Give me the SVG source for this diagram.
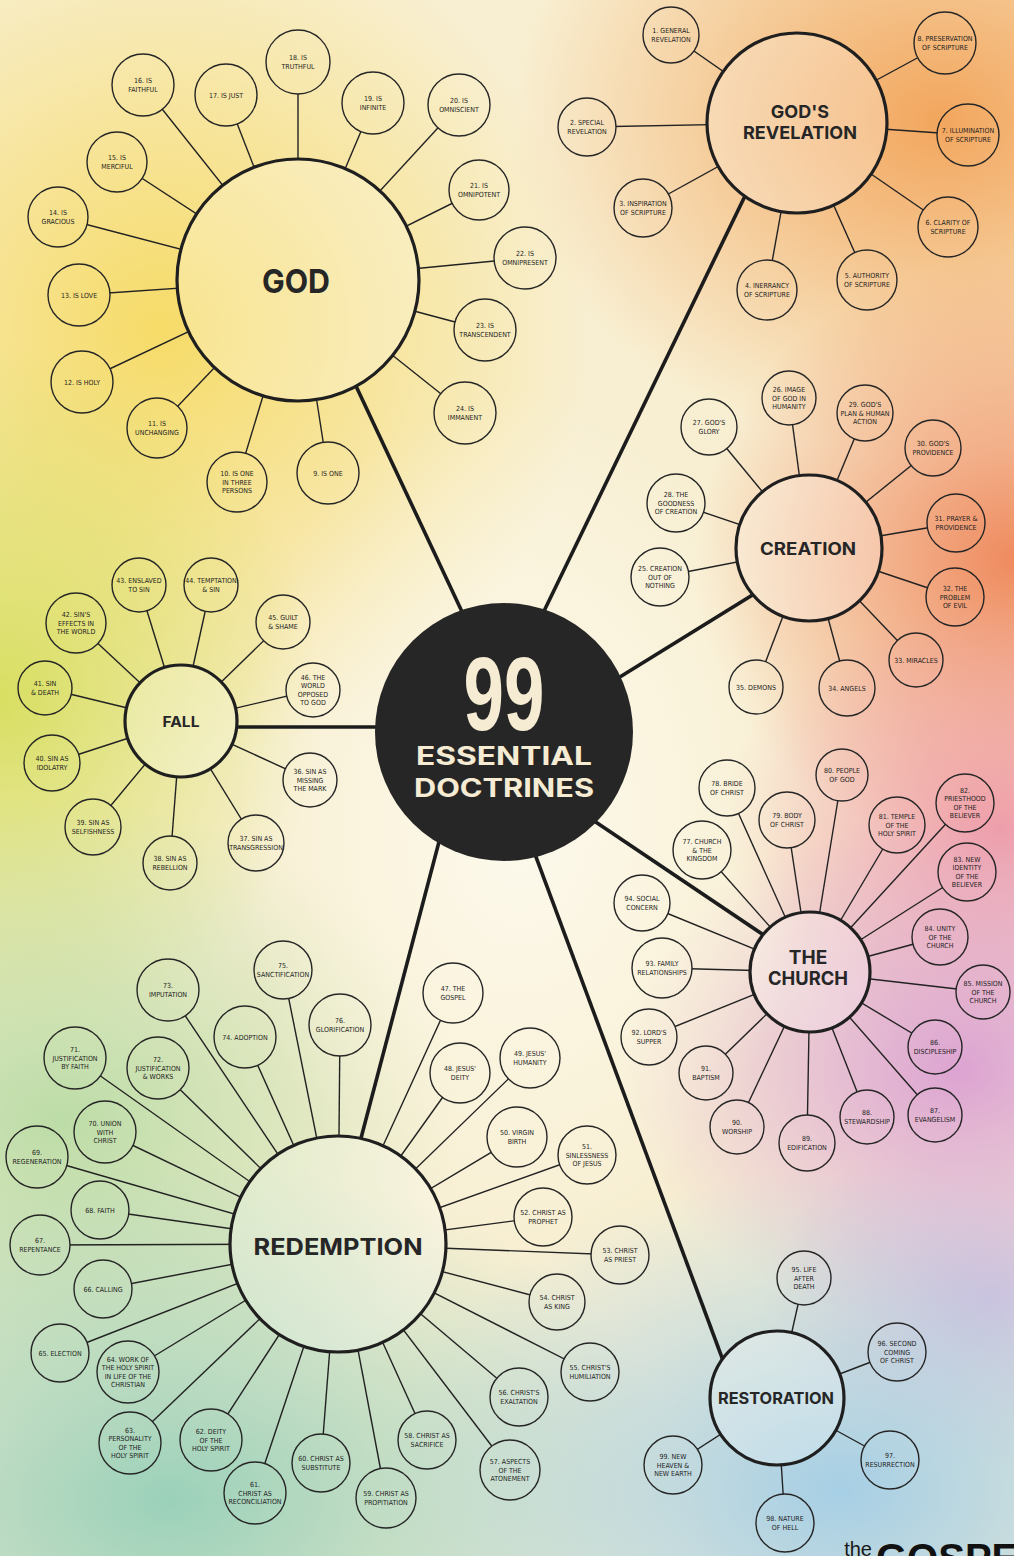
<svg xmlns="http://www.w3.org/2000/svg" width="1014" height="1556" viewBox="0 0 1014 1556">
<style>
.sat circle{fill:none;stroke:#262626;stroke-width:1.4}
.sat text{font-family:"Liberation Sans Narrow","DejaVu Sans Condensed","Liberation Sans",sans-serif;font-stretch:condensed;font-size:7px;fill:#1e1e1e;text-anchor:middle}
.hub circle{fill:#ffffff;fill-opacity:.25;stroke:#1f1f1f;stroke-width:3.2}
.hub text{font-family:"Inter","Open Sans","Liberation Sans",sans-serif;font-weight:700;fill:#262626;text-anchor:middle}
#links line{stroke:#222;stroke-width:1.4}
#links line.trunk{stroke:#1c1c1c;stroke-width:3.6}
</style>
<defs>
<radialGradient id="gY"><stop offset="0" stop-color="#f6da62" stop-opacity=".95"/><stop offset="1" stop-color="#f6da62" stop-opacity="0"/></radialGradient>
<radialGradient id="gO"><stop offset="0" stop-color="#f2a257" stop-opacity=".95"/><stop offset="1" stop-color="#f2a257" stop-opacity="0"/></radialGradient>
<radialGradient id="gC"><stop offset="0" stop-color="#ee7f52" stop-opacity=".9"/><stop offset="1" stop-color="#ee7f52" stop-opacity="0"/></radialGradient>
<radialGradient id="gP"><stop offset="0" stop-color="#ee96a6" stop-opacity=".9"/><stop offset="1" stop-color="#ee96a6" stop-opacity="0"/></radialGradient>
<radialGradient id="gM"><stop offset="0" stop-color="#d99bd2" stop-opacity=".9"/><stop offset="1" stop-color="#d99bd2" stop-opacity="0"/></radialGradient>
<radialGradient id="gL"><stop offset="0" stop-color="#d3b4de" stop-opacity=".8"/><stop offset="1" stop-color="#d3b4de" stop-opacity="0"/></radialGradient>
<radialGradient id="gG"><stop offset="0" stop-color="#d4dd55" stop-opacity=".9"/><stop offset="1" stop-color="#d4dd55" stop-opacity="0"/></radialGradient>
<radialGradient id="gG2"><stop offset="0" stop-color="#b5daa2" stop-opacity=".9"/><stop offset="1" stop-color="#b5daa2" stop-opacity="0"/></radialGradient>
<radialGradient id="gT"><stop offset="0" stop-color="#96cfb8" stop-opacity=".95"/><stop offset="1" stop-color="#96cfb8" stop-opacity="0"/></radialGradient>
<radialGradient id="gB"><stop offset="0" stop-color="#a2cde6" stop-opacity=".95"/><stop offset="1" stop-color="#a2cde6" stop-opacity="0"/></radialGradient>
<radialGradient id="gW"><stop offset="0" stop-color="#fdfaee" stop-opacity=".95"/><stop offset="1" stop-color="#fdfaee" stop-opacity="0"/></radialGradient>
<mask id="holes" maskUnits="userSpaceOnUse" x="0" y="0" width="1014" height="1556">
<rect width="1014" height="1556" fill="#fff"/>
<g fill="#000">
<circle cx="298" cy="280" r="121"/><circle cx="797" cy="123" r="90"/><circle cx="809" cy="548" r="73"/><circle cx="181" cy="721" r="56"/><circle cx="810" cy="972" r="60"/><circle cx="338" cy="1244" r="108"/><circle cx="777" cy="1398" r="67"/>
<circle cx="328" cy="473" r="31"/><circle cx="237" cy="482" r="30"/><circle cx="157" cy="428" r="30"/><circle cx="82" cy="382" r="31"/><circle cx="79" cy="295" r="31"/><circle cx="58" cy="217" r="30"/><circle cx="117" cy="162" r="30"/><circle cx="143" cy="85" r="31"/><circle cx="226" cy="95" r="31"/><circle cx="298" cy="62" r="32"/><circle cx="373" cy="103" r="31"/><circle cx="459" cy="105" r="31"/><circle cx="479" cy="190" r="30"/><circle cx="525" cy="258" r="31"/><circle cx="485" cy="330" r="31"/><circle cx="465" cy="413" r="31"/>
<circle cx="671" cy="35" r="28"/><circle cx="587" cy="127" r="29"/><circle cx="643" cy="208" r="29"/><circle cx="767" cy="290" r="30"/><circle cx="867" cy="280" r="30"/><circle cx="948" cy="227" r="30"/><circle cx="968" cy="135" r="31"/><circle cx="945" cy="43" r="31"/>
<circle cx="660" cy="577" r="29"/><circle cx="789" cy="398" r="27"/><circle cx="709" cy="427" r="28"/><circle cx="676" cy="503" r="29"/><circle cx="865" cy="413" r="28"/><circle cx="933" cy="448" r="28"/><circle cx="956" cy="523" r="29"/><circle cx="955" cy="597" r="29"/><circle cx="916" cy="660" r="27"/><circle cx="847" cy="688" r="28"/><circle cx="756" cy="687" r="27"/>
<circle cx="310" cy="780" r="27"/><circle cx="256" cy="843" r="28"/><circle cx="170" cy="863" r="27"/><circle cx="93" cy="827" r="28"/><circle cx="52" cy="763" r="28"/><circle cx="45" cy="688" r="27"/><circle cx="76" cy="623" r="30"/><circle cx="139" cy="585" r="27"/><circle cx="211" cy="585" r="27"/><circle cx="283" cy="622" r="27"/><circle cx="313" cy="690" r="27"/>
<circle cx="453" cy="993" r="30"/><circle cx="460" cy="1073" r="30"/><circle cx="530" cy="1058" r="30"/><circle cx="517" cy="1137" r="30"/><circle cx="587" cy="1155" r="29"/><circle cx="543" cy="1217" r="29"/><circle cx="620" cy="1255" r="29"/><circle cx="557" cy="1302" r="28"/><circle cx="590" cy="1372" r="29"/><circle cx="519" cy="1397" r="29"/><circle cx="510" cy="1470" r="30"/><circle cx="427" cy="1440" r="29"/><circle cx="386" cy="1498" r="30"/><circle cx="321" cy="1463" r="29"/><circle cx="255" cy="1493" r="31"/><circle cx="211" cy="1440" r="31"/><circle cx="130" cy="1443" r="31"/><circle cx="128" cy="1372" r="31"/><circle cx="60" cy="1353" r="29"/><circle cx="103" cy="1289" r="29"/><circle cx="40" cy="1245" r="30"/><circle cx="100" cy="1210" r="29"/><circle cx="37" cy="1157" r="31"/><circle cx="105" cy="1132" r="31"/><circle cx="75" cy="1058" r="31"/><circle cx="158" cy="1068" r="31"/><circle cx="168" cy="990" r="31"/><circle cx="245" cy="1037" r="31"/><circle cx="283" cy="970" r="29"/><circle cx="340" cy="1025" r="31"/>
<circle cx="702" cy="850" r="29"/><circle cx="727" cy="788" r="28"/><circle cx="787" cy="820" r="28"/><circle cx="842" cy="775" r="26"/><circle cx="897" cy="825" r="28"/><circle cx="965" cy="803" r="29"/><circle cx="967" cy="872" r="29"/><circle cx="940" cy="937" r="28"/><circle cx="983" cy="992" r="27"/><circle cx="935" cy="1047" r="27"/><circle cx="935" cy="1115" r="27"/><circle cx="867" cy="1117" r="27"/><circle cx="807" cy="1143" r="28"/><circle cx="737" cy="1127" r="27"/><circle cx="706" cy="1073" r="27"/><circle cx="649" cy="1037" r="28"/><circle cx="662" cy="968" r="30"/><circle cx="642" cy="903" r="28"/>
<circle cx="804" cy="1278" r="27"/><circle cx="897" cy="1352" r="29"/><circle cx="890" cy="1460" r="29"/><circle cx="785" cy="1523" r="29"/><circle cx="673" cy="1465" r="29"/>
</g>
</mask>
</defs>
<g id="background">
<rect width="1014" height="1556" fill="#f8efd2"/>
<ellipse cx="160" cy="330" rx="430" ry="430" fill="url(#gY)"/>
<ellipse cx="940" cy="120" rx="430" ry="340" fill="url(#gO)"/>
<ellipse cx="1014" cy="560" rx="320" ry="300" fill="url(#gC)"/>
<ellipse cx="1000" cy="830" rx="280" ry="230" fill="url(#gP)"/>
<ellipse cx="960" cy="1070" rx="340" ry="260" fill="url(#gM)"/>
<ellipse cx="990" cy="1300" rx="230" ry="170" fill="url(#gL)"/>
<ellipse cx="0" cy="700" rx="320" ry="360" fill="url(#gG)"/>
<ellipse cx="60" cy="1120" rx="400" ry="320" fill="url(#gG2)"/>
<ellipse cx="170" cy="1500" rx="520" ry="340" fill="url(#gT)"/>
<ellipse cx="840" cy="1490" rx="470" ry="320" fill="url(#gB)"/>
<ellipse cx="520" cy="820" rx="290" ry="430" fill="url(#gW)"/>
</g>
<g id="links" mask="url(#holes)">
<line class="trunk" x1="340" y1="352" x2="480" y2="650"/>
<line class="trunk" x1="760" y1="165" x2="530" y2="640"/>
<line class="trunk" x1="780" y1="578" x2="560" y2="714"/>
<line class="trunk" x1="200" y1="727" x2="420" y2="727"/>
<line class="trunk" x1="560" y1="798" x2="780" y2="946"/>
<line class="trunk" x1="450" y1="800" x2="350" y2="1180"/>
<line class="trunk" x1="500" y1="760" x2="734" y2="1390"/>
<line x1="328" y1="473" x2="298" y2="280"/><line x1="237" y1="482" x2="298" y2="280"/><line x1="157" y1="428" x2="298" y2="280"/><line x1="82" y1="382" x2="298" y2="280"/><line x1="79" y1="295" x2="298" y2="280"/><line x1="58" y1="217" x2="298" y2="280"/><line x1="117" y1="162" x2="298" y2="280"/><line x1="143" y1="85" x2="298" y2="280"/><line x1="226" y1="95" x2="298" y2="280"/><line x1="298" y1="62" x2="298" y2="280"/><line x1="373" y1="103" x2="298" y2="280"/><line x1="459" y1="105" x2="298" y2="280"/><line x1="479" y1="190" x2="298" y2="280"/><line x1="525" y1="258" x2="298" y2="280"/><line x1="485" y1="330" x2="298" y2="280"/><line x1="465" y1="413" x2="298" y2="280"/>
<line x1="671" y1="35" x2="797" y2="123"/><line x1="587" y1="127" x2="797" y2="123"/><line x1="643" y1="208" x2="797" y2="123"/><line x1="767" y1="290" x2="797" y2="123"/><line x1="867" y1="280" x2="797" y2="123"/><line x1="948" y1="227" x2="797" y2="123"/><line x1="968" y1="135" x2="797" y2="123"/><line x1="945" y1="43" x2="797" y2="123"/>
<line x1="660" y1="577" x2="809" y2="548"/><line x1="789" y1="398" x2="809" y2="548"/><line x1="709" y1="427" x2="809" y2="548"/><line x1="676" y1="503" x2="809" y2="548"/><line x1="865" y1="413" x2="809" y2="548"/><line x1="933" y1="448" x2="809" y2="548"/><line x1="956" y1="523" x2="809" y2="548"/><line x1="955" y1="597" x2="809" y2="548"/><line x1="916" y1="660" x2="809" y2="548"/><line x1="847" y1="688" x2="809" y2="548"/><line x1="756" y1="687" x2="809" y2="548"/>
<line x1="310" y1="780" x2="181" y2="721"/><line x1="256" y1="843" x2="181" y2="721"/><line x1="170" y1="863" x2="181" y2="721"/><line x1="93" y1="827" x2="181" y2="721"/><line x1="52" y1="763" x2="181" y2="721"/><line x1="45" y1="688" x2="181" y2="721"/><line x1="76" y1="623" x2="181" y2="721"/><line x1="139" y1="585" x2="181" y2="721"/><line x1="211" y1="585" x2="181" y2="721"/><line x1="283" y1="622" x2="181" y2="721"/><line x1="313" y1="690" x2="181" y2="721"/>
<line x1="453" y1="993" x2="338" y2="1244"/><line x1="460" y1="1073" x2="338" y2="1244"/><line x1="530" y1="1058" x2="338" y2="1244"/><line x1="517" y1="1137" x2="338" y2="1244"/><line x1="587" y1="1155" x2="338" y2="1244"/><line x1="543" y1="1217" x2="338" y2="1244"/><line x1="620" y1="1255" x2="338" y2="1244"/><line x1="557" y1="1302" x2="338" y2="1244"/><line x1="590" y1="1372" x2="338" y2="1244"/><line x1="519" y1="1397" x2="338" y2="1244"/><line x1="510" y1="1470" x2="338" y2="1244"/><line x1="427" y1="1440" x2="338" y2="1244"/><line x1="386" y1="1498" x2="338" y2="1244"/><line x1="321" y1="1463" x2="338" y2="1244"/><line x1="255" y1="1493" x2="338" y2="1244"/><line x1="211" y1="1440" x2="338" y2="1244"/><line x1="130" y1="1443" x2="338" y2="1244"/><line x1="128" y1="1372" x2="338" y2="1244"/><line x1="60" y1="1353" x2="338" y2="1244"/><line x1="103" y1="1289" x2="338" y2="1244"/><line x1="40" y1="1245" x2="338" y2="1244"/><line x1="100" y1="1210" x2="338" y2="1244"/><line x1="37" y1="1157" x2="338" y2="1244"/><line x1="105" y1="1132" x2="338" y2="1244"/><line x1="75" y1="1058" x2="338" y2="1244"/><line x1="158" y1="1068" x2="338" y2="1244"/><line x1="168" y1="990" x2="338" y2="1244"/><line x1="245" y1="1037" x2="338" y2="1244"/><line x1="283" y1="970" x2="338" y2="1244"/><line x1="340" y1="1025" x2="338" y2="1244"/>
<line x1="702" y1="850" x2="810" y2="972"/><line x1="727" y1="788" x2="810" y2="972"/><line x1="787" y1="820" x2="810" y2="972"/><line x1="842" y1="775" x2="810" y2="972"/><line x1="897" y1="825" x2="810" y2="972"/><line x1="965" y1="803" x2="810" y2="972"/><line x1="967" y1="872" x2="810" y2="972"/><line x1="940" y1="937" x2="810" y2="972"/><line x1="983" y1="992" x2="810" y2="972"/><line x1="935" y1="1047" x2="810" y2="972"/><line x1="935" y1="1115" x2="810" y2="972"/><line x1="867" y1="1117" x2="810" y2="972"/><line x1="807" y1="1143" x2="810" y2="972"/><line x1="737" y1="1127" x2="810" y2="972"/><line x1="706" y1="1073" x2="810" y2="972"/><line x1="649" y1="1037" x2="810" y2="972"/><line x1="662" y1="968" x2="810" y2="972"/><line x1="642" y1="903" x2="810" y2="972"/>
<line x1="804" y1="1278" x2="777" y2="1398"/><line x1="897" y1="1352" x2="777" y2="1398"/><line x1="890" y1="1460" x2="777" y2="1398"/><line x1="785" y1="1523" x2="777" y2="1398"/><line x1="673" y1="1465" x2="777" y2="1398"/>
</g>
<g id="center">
<circle cx="504" cy="732" r="129" fill="#272626"/>
<text transform="translate(504,730) scale(0.7,1)" text-anchor="middle" font-family="'Liberation Sans','DejaVu Sans',sans-serif" font-weight="700" font-size="104" fill="#f6ecd3">99</text>
<text x="504" y="765" text-anchor="middle" font-family="Inter,'Open Sans','Liberation Sans',sans-serif" font-weight="700" font-size="25" fill="#f6ecd3" textLength="176" lengthAdjust="spacingAndGlyphs">ESSENTIAL</text>
<text x="504" y="797" text-anchor="middle" font-family="Inter,'Open Sans','Liberation Sans',sans-serif" font-weight="700" font-size="25" fill="#f6ecd3" textLength="180" lengthAdjust="spacingAndGlyphs">DOCTRINES</text>
</g>
<g id="hub-god" class="hub"><circle cx="298" cy="280" r="121"/><text x="296" y="293" font-size="33" textLength="68" lengthAdjust="spacingAndGlyphs">GOD</text></g>
<g id="hub-revelation" class="hub"><circle cx="797" cy="123" r="90"/><text x="800" y="118" font-size="18">GOD'S</text><text x="800" y="139" font-size="18" textLength="114" lengthAdjust="spacingAndGlyphs">REVELATION</text></g>
<g id="hub-creation" class="hub"><circle cx="809" cy="548" r="73"/><text x="808" y="555" font-size="17" textLength="96" lengthAdjust="spacingAndGlyphs">CREATION</text></g>
<g id="hub-fall" class="hub"><circle cx="181" cy="721" r="56"/><text x="181" y="727" font-size="15" textLength="37" lengthAdjust="spacingAndGlyphs">FALL</text></g>
<g id="hub-church" class="hub"><circle cx="810" cy="972" r="60"/><text x="808" y="964" font-size="19">THE</text><text x="808" y="985" font-size="19" textLength="80" lengthAdjust="spacingAndGlyphs">CHURCH</text></g>
<g id="hub-redemption" class="hub"><circle cx="338" cy="1244" r="108"/><text x="338" y="1255" font-size="23" textLength="169" lengthAdjust="spacingAndGlyphs">REDEMPTION</text></g>
<g id="hub-restoration" class="hub"><circle cx="777" cy="1398" r="67"/><text x="776" y="1404" font-size="16" textLength="116" lengthAdjust="spacingAndGlyphs">RESTORATION</text></g>

<g id="n9" class="sat"><circle cx="328" cy="473" r="31"/><text x="328" y="475.5">9. IS ONE</text></g>
<g id="n10" class="sat"><circle cx="237" cy="482" r="30"/><text x="237" y="476"><tspan x="237">10. IS ONE</tspan><tspan x="237" dy="8.5">IN THREE</tspan><tspan x="237" dy="8.5">PERSONS</tspan></text></g>
<g id="n11" class="sat"><circle cx="157" cy="428" r="30"/><text x="157" y="426.25"><tspan x="157">11. IS</tspan><tspan x="157" dy="8.5">UNCHANGING</tspan></text></g>
<g id="n12" class="sat"><circle cx="82" cy="382" r="31"/><text x="82" y="384.5">12. IS HOLY</text></g>
<g id="n13" class="sat"><circle cx="79" cy="295" r="31"/><text x="79" y="297.5">13. IS LOVE</text></g>
<g id="n14" class="sat"><circle cx="58" cy="217" r="30"/><text x="58" y="215.25"><tspan x="58">14. IS</tspan><tspan x="58" dy="8.5">GRACIOUS</tspan></text></g>
<g id="n15" class="sat"><circle cx="117" cy="162" r="30"/><text x="117" y="160.25"><tspan x="117">15. IS</tspan><tspan x="117" dy="8.5">MERCIFUL</tspan></text></g>
<g id="n16" class="sat"><circle cx="143" cy="85" r="31"/><text x="143" y="83.25"><tspan x="143">16. IS</tspan><tspan x="143" dy="8.5">FAITHFUL</tspan></text></g>
<g id="n17" class="sat"><circle cx="226" cy="95" r="31"/><text x="226" y="97.5">17. IS JUST</text></g>
<g id="n18" class="sat"><circle cx="298" cy="62" r="32"/><text x="298" y="60.25"><tspan x="298">18. IS</tspan><tspan x="298" dy="8.5">TRUTHFUL</tspan></text></g>
<g id="n19" class="sat"><circle cx="373" cy="103" r="31"/><text x="373" y="101.25"><tspan x="373">19. IS</tspan><tspan x="373" dy="8.5">INFINITE</tspan></text></g>
<g id="n20" class="sat"><circle cx="459" cy="105" r="31"/><text x="459" y="103.25"><tspan x="459">20. IS</tspan><tspan x="459" dy="8.5">OMNISCIENT</tspan></text></g>
<g id="n21" class="sat"><circle cx="479" cy="190" r="30"/><text x="479" y="188.25"><tspan x="479">21. IS</tspan><tspan x="479" dy="8.5">OMNIPOTENT</tspan></text></g>
<g id="n22" class="sat"><circle cx="525" cy="258" r="31"/><text x="525" y="256.25"><tspan x="525">22. IS</tspan><tspan x="525" dy="8.5">OMNIPRESENT</tspan></text></g>
<g id="n23" class="sat"><circle cx="485" cy="330" r="31"/><text x="485" y="328.25"><tspan x="485">23. IS</tspan><tspan x="485" dy="8.5">TRANSCENDENT</tspan></text></g>
<g id="n24" class="sat"><circle cx="465" cy="413" r="31"/><text x="465" y="411.25"><tspan x="465">24. IS</tspan><tspan x="465" dy="8.5">IMMANENT</tspan></text></g>

<g id="n1" class="sat"><circle cx="671" cy="35" r="28"/><text x="671" y="33.25"><tspan x="671">1. GENERAL</tspan><tspan x="671" dy="8.5">REVELATION</tspan></text></g>
<g id="n2" class="sat"><circle cx="587" cy="127" r="29"/><text x="587" y="125.25"><tspan x="587">2. SPECIAL</tspan><tspan x="587" dy="8.5">REVELATION</tspan></text></g>
<g id="n3" class="sat"><circle cx="643" cy="208" r="29"/><text x="643" y="206.25"><tspan x="643">3. INSPIRATION</tspan><tspan x="643" dy="8.5">OF SCRIPTURE</tspan></text></g>
<g id="n4" class="sat"><circle cx="767" cy="290" r="30"/><text x="767" y="288.25"><tspan x="767">4. INERRANCY</tspan><tspan x="767" dy="8.5">OF SCRIPTURE</tspan></text></g>
<g id="n5" class="sat"><circle cx="867" cy="280" r="30"/><text x="867" y="278.25"><tspan x="867">5. AUTHORITY</tspan><tspan x="867" dy="8.5">OF SCRIPTURE</tspan></text></g>
<g id="n6" class="sat"><circle cx="948" cy="227" r="30"/><text x="948" y="225.25"><tspan x="948">6. CLARITY OF</tspan><tspan x="948" dy="8.5">SCRIPTURE</tspan></text></g>
<g id="n7" class="sat"><circle cx="968" cy="135" r="31"/><text x="968" y="133.25"><tspan x="968">7. ILLUMINATION</tspan><tspan x="968" dy="8.5">OF SCRIPTURE</tspan></text></g>
<g id="n8" class="sat"><circle cx="945" cy="43" r="31"/><text x="945" y="41.25"><tspan x="945">8. PRESERVATION</tspan><tspan x="945" dy="8.5">OF SCRIPTURE</tspan></text></g>

<g id="n25" class="sat"><circle cx="660" cy="577" r="29"/><text x="660" y="571"><tspan x="660">25. CREATION</tspan><tspan x="660" dy="8.5">OUT OF</tspan><tspan x="660" dy="8.5">NOTHING</tspan></text></g>
<g id="n26" class="sat"><circle cx="789" cy="398" r="27"/><text x="789" y="392"><tspan x="789">26. IMAGE</tspan><tspan x="789" dy="8.5">OF GOD IN</tspan><tspan x="789" dy="8.5">HUMANITY</tspan></text></g>
<g id="n27" class="sat"><circle cx="709" cy="427" r="28"/><text x="709" y="425.25"><tspan x="709">27. GOD'S</tspan><tspan x="709" dy="8.5">GLORY</tspan></text></g>
<g id="n28" class="sat"><circle cx="676" cy="503" r="29"/><text x="676" y="497"><tspan x="676">28. THE</tspan><tspan x="676" dy="8.5">GOODNESS</tspan><tspan x="676" dy="8.5">OF CREATION</tspan></text></g>
<g id="n29" class="sat"><circle cx="865" cy="413" r="28"/><text x="865" y="407"><tspan x="865">29. GOD'S</tspan><tspan x="865" dy="8.5">PLAN &amp; HUMAN</tspan><tspan x="865" dy="8.5">ACTION</tspan></text></g>
<g id="n30" class="sat"><circle cx="933" cy="448" r="28"/><text x="933" y="446.25"><tspan x="933">30. GOD'S</tspan><tspan x="933" dy="8.5">PROVIDENCE</tspan></text></g>
<g id="n31" class="sat"><circle cx="956" cy="523" r="29"/><text x="956" y="521.25"><tspan x="956">31. PRAYER &amp;</tspan><tspan x="956" dy="8.5">PROVIDENCE</tspan></text></g>
<g id="n32" class="sat"><circle cx="955" cy="597" r="29"/><text x="955" y="591"><tspan x="955">32. THE</tspan><tspan x="955" dy="8.5">PROBLEM</tspan><tspan x="955" dy="8.5">OF EVIL</tspan></text></g>
<g id="n33" class="sat"><circle cx="916" cy="660" r="27"/><text x="916" y="662.5">33. MIRACLES</text></g>
<g id="n34" class="sat"><circle cx="847" cy="688" r="28"/><text x="847" y="690.5">34. ANGELS</text></g>
<g id="n35" class="sat"><circle cx="756" cy="687" r="27"/><text x="756" y="689.5">35. DEMONS</text></g>

<g id="n36" class="sat"><circle cx="310" cy="780" r="27"/><text x="310" y="774"><tspan x="310">36. SIN AS</tspan><tspan x="310" dy="8.5">MISSING</tspan><tspan x="310" dy="8.5">THE MARK</tspan></text></g>
<g id="n37" class="sat"><circle cx="256" cy="843" r="28"/><text x="256" y="841.25"><tspan x="256">37. SIN AS</tspan><tspan x="256" dy="8.5">TRANSGRESSION</tspan></text></g>
<g id="n38" class="sat"><circle cx="170" cy="863" r="27"/><text x="170" y="861.25"><tspan x="170">38. SIN AS</tspan><tspan x="170" dy="8.5">REBELLION</tspan></text></g>
<g id="n39" class="sat"><circle cx="93" cy="827" r="28"/><text x="93" y="825.25"><tspan x="93">39. SIN AS</tspan><tspan x="93" dy="8.5">SELFISHNESS</tspan></text></g>
<g id="n40" class="sat"><circle cx="52" cy="763" r="28"/><text x="52" y="761.25"><tspan x="52">40. SIN AS</tspan><tspan x="52" dy="8.5">IDOLATRY</tspan></text></g>
<g id="n41" class="sat"><circle cx="45" cy="688" r="27"/><text x="45" y="686.25"><tspan x="45">41. SIN</tspan><tspan x="45" dy="8.5">&amp; DEATH</tspan></text></g>
<g id="n42" class="sat"><circle cx="76" cy="623" r="30"/><text x="76" y="617"><tspan x="76">42. SIN'S</tspan><tspan x="76" dy="8.5">EFFECTS IN</tspan><tspan x="76" dy="8.5">THE WORLD</tspan></text></g>
<g id="n43" class="sat"><circle cx="139" cy="585" r="27"/><text x="139" y="583.25"><tspan x="139">43. ENSLAVED</tspan><tspan x="139" dy="8.5">TO SIN</tspan></text></g>
<g id="n44" class="sat"><circle cx="211" cy="585" r="27"/><text x="211" y="583.25"><tspan x="211">44. TEMPTATION</tspan><tspan x="211" dy="8.5">&amp; SIN</tspan></text></g>
<g id="n45" class="sat"><circle cx="283" cy="622" r="27"/><text x="283" y="620.25"><tspan x="283">45. GUILT</tspan><tspan x="283" dy="8.5">&amp; SHAME</tspan></text></g>
<g id="n46" class="sat"><circle cx="313" cy="690" r="27"/><text x="313" y="679.75"><tspan x="313">46. THE</tspan><tspan x="313" dy="8.5">WORLD</tspan><tspan x="313" dy="8.5">OPPOSED</tspan><tspan x="313" dy="8.5">TO GOD</tspan></text></g>

<g id="n47" class="sat"><circle cx="453" cy="993" r="30"/><text x="453" y="991.25"><tspan x="453">47. THE</tspan><tspan x="453" dy="8.5">GOSPEL</tspan></text></g>
<g id="n48" class="sat"><circle cx="460" cy="1073" r="30"/><text x="460" y="1071.25"><tspan x="460">48. JESUS'</tspan><tspan x="460" dy="8.5">DEITY</tspan></text></g>
<g id="n49" class="sat"><circle cx="530" cy="1058" r="30"/><text x="530" y="1056.25"><tspan x="530">49. JESUS'</tspan><tspan x="530" dy="8.5">HUMANITY</tspan></text></g>
<g id="n50" class="sat"><circle cx="517" cy="1137" r="30"/><text x="517" y="1135.25"><tspan x="517">50. VIRGIN</tspan><tspan x="517" dy="8.5">BIRTH</tspan></text></g>
<g id="n51" class="sat"><circle cx="587" cy="1155" r="29"/><text x="587" y="1149"><tspan x="587">51.</tspan><tspan x="587" dy="8.5">SINLESSNESS</tspan><tspan x="587" dy="8.5">OF JESUS</tspan></text></g>
<g id="n52" class="sat"><circle cx="543" cy="1217" r="29"/><text x="543" y="1215.25"><tspan x="543">52. CHRIST AS</tspan><tspan x="543" dy="8.5">PROPHET</tspan></text></g>
<g id="n53" class="sat"><circle cx="620" cy="1255" r="29"/><text x="620" y="1253.25"><tspan x="620">53. CHRIST</tspan><tspan x="620" dy="8.5">AS PRIEST</tspan></text></g>
<g id="n54" class="sat"><circle cx="557" cy="1302" r="28"/><text x="557" y="1300.25"><tspan x="557">54. CHRIST</tspan><tspan x="557" dy="8.5">AS KING</tspan></text></g>
<g id="n55" class="sat"><circle cx="590" cy="1372" r="29"/><text x="590" y="1370.25"><tspan x="590">55. CHRIST'S</tspan><tspan x="590" dy="8.5">HUMILIATION</tspan></text></g>
<g id="n56" class="sat"><circle cx="519" cy="1397" r="29"/><text x="519" y="1395.25"><tspan x="519">56. CHRIST'S</tspan><tspan x="519" dy="8.5">EXALTATION</tspan></text></g>
<g id="n57" class="sat"><circle cx="510" cy="1470" r="30"/><text x="510" y="1464"><tspan x="510">57. ASPECTS</tspan><tspan x="510" dy="8.5">OF THE</tspan><tspan x="510" dy="8.5">ATONEMENT</tspan></text></g>
<g id="n58" class="sat"><circle cx="427" cy="1440" r="29"/><text x="427" y="1438.25"><tspan x="427">58. CHRIST AS</tspan><tspan x="427" dy="8.5">SACRIFICE</tspan></text></g>
<g id="n59" class="sat"><circle cx="386" cy="1498" r="30"/><text x="386" y="1496.25"><tspan x="386">59. CHRIST AS</tspan><tspan x="386" dy="8.5">PROPITIATION</tspan></text></g>
<g id="n60" class="sat"><circle cx="321" cy="1463" r="29"/><text x="321" y="1461.25"><tspan x="321">60. CHRIST AS</tspan><tspan x="321" dy="8.5">SUBSTITUTE</tspan></text></g>
<g id="n61" class="sat"><circle cx="255" cy="1493" r="31"/><text x="255" y="1487"><tspan x="255">61.</tspan><tspan x="255" dy="8.5">CHRIST AS</tspan><tspan x="255" dy="8.5">RECONCILIATION</tspan></text></g>
<g id="n62" class="sat"><circle cx="211" cy="1440" r="31"/><text x="211" y="1434"><tspan x="211">62. DEITY</tspan><tspan x="211" dy="8.5">OF THE</tspan><tspan x="211" dy="8.5">HOLY SPIRIT</tspan></text></g>
<g id="n63" class="sat"><circle cx="130" cy="1443" r="31"/><text x="130" y="1432.75"><tspan x="130">63.</tspan><tspan x="130" dy="8.5">PERSONALITY</tspan><tspan x="130" dy="8.5">OF THE</tspan><tspan x="130" dy="8.5">HOLY SPIRIT</tspan></text></g>
<g id="n64" class="sat"><circle cx="128" cy="1372" r="31"/><text x="128" y="1361.75"><tspan x="128">64. WORK OF</tspan><tspan x="128" dy="8.5">THE HOLY SPIRIT</tspan><tspan x="128" dy="8.5">IN LIFE OF THE</tspan><tspan x="128" dy="8.5">CHRISTIAN</tspan></text></g>
<g id="n65" class="sat"><circle cx="60" cy="1353" r="29"/><text x="60" y="1355.5">65. ELECTION</text></g>
<g id="n66" class="sat"><circle cx="103" cy="1289" r="29"/><text x="103" y="1291.5">66. CALLING</text></g>
<g id="n67" class="sat"><circle cx="40" cy="1245" r="30"/><text x="40" y="1243.25"><tspan x="40">67.</tspan><tspan x="40" dy="8.5">REPENTANCE</tspan></text></g>
<g id="n68" class="sat"><circle cx="100" cy="1210" r="29"/><text x="100" y="1212.5">68. FAITH</text></g>
<g id="n69" class="sat"><circle cx="37" cy="1157" r="31"/><text x="37" y="1155.25"><tspan x="37">69.</tspan><tspan x="37" dy="8.5">REGENERATION</tspan></text></g>
<g id="n70" class="sat"><circle cx="105" cy="1132" r="31"/><text x="105" y="1126"><tspan x="105">70. UNION</tspan><tspan x="105" dy="8.5">WITH</tspan><tspan x="105" dy="8.5">CHRIST</tspan></text></g>
<g id="n71" class="sat"><circle cx="75" cy="1058" r="31"/><text x="75" y="1052"><tspan x="75">71.</tspan><tspan x="75" dy="8.5">JUSTIFICATION</tspan><tspan x="75" dy="8.5">BY FAITH</tspan></text></g>
<g id="n72" class="sat"><circle cx="158" cy="1068" r="31"/><text x="158" y="1062"><tspan x="158">72.</tspan><tspan x="158" dy="8.5">JUSTIFICATION</tspan><tspan x="158" dy="8.5">&amp; WORKS</tspan></text></g>
<g id="n73" class="sat"><circle cx="168" cy="990" r="31"/><text x="168" y="988.25"><tspan x="168">73.</tspan><tspan x="168" dy="8.5">IMPUTATION</tspan></text></g>
<g id="n74" class="sat"><circle cx="245" cy="1037" r="31"/><text x="245" y="1039.5">74. ADOPTION</text></g>
<g id="n75" class="sat"><circle cx="283" cy="970" r="29"/><text x="283" y="968.25"><tspan x="283">75.</tspan><tspan x="283" dy="8.5">SANCTIFICATION</tspan></text></g>
<g id="n76" class="sat"><circle cx="340" cy="1025" r="31"/><text x="340" y="1023.25"><tspan x="340">76.</tspan><tspan x="340" dy="8.5">GLORIFICATION</tspan></text></g>

<g id="n77" class="sat"><circle cx="702" cy="850" r="29"/><text x="702" y="844"><tspan x="702">77. CHURCH</tspan><tspan x="702" dy="8.5">&amp; THE</tspan><tspan x="702" dy="8.5">KINGDOM</tspan></text></g>
<g id="n78" class="sat"><circle cx="727" cy="788" r="28"/><text x="727" y="786.25"><tspan x="727">78. BRIDE</tspan><tspan x="727" dy="8.5">OF CHRIST</tspan></text></g>
<g id="n79" class="sat"><circle cx="787" cy="820" r="28"/><text x="787" y="818.25"><tspan x="787">79. BODY</tspan><tspan x="787" dy="8.5">OF CHRIST</tspan></text></g>
<g id="n80" class="sat"><circle cx="842" cy="775" r="26"/><text x="842" y="773.25"><tspan x="842">80. PEOPLE</tspan><tspan x="842" dy="8.5">OF GOD</tspan></text></g>
<g id="n81" class="sat"><circle cx="897" cy="825" r="28"/><text x="897" y="819"><tspan x="897">81. TEMPLE</tspan><tspan x="897" dy="8.5">OF THE</tspan><tspan x="897" dy="8.5">HOLY SPIRIT</tspan></text></g>
<g id="n82" class="sat"><circle cx="965" cy="803" r="29"/><text x="965" y="792.75"><tspan x="965">82.</tspan><tspan x="965" dy="8.5">PRIESTHOOD</tspan><tspan x="965" dy="8.5">OF THE</tspan><tspan x="965" dy="8.5">BELIEVER</tspan></text></g>
<g id="n83" class="sat"><circle cx="967" cy="872" r="29"/><text x="967" y="861.75"><tspan x="967">83. NEW</tspan><tspan x="967" dy="8.5">IDENTITY</tspan><tspan x="967" dy="8.5">OF THE</tspan><tspan x="967" dy="8.5">BELIEVER</tspan></text></g>
<g id="n84" class="sat"><circle cx="940" cy="937" r="28"/><text x="940" y="931"><tspan x="940">84. UNITY</tspan><tspan x="940" dy="8.5">OF THE</tspan><tspan x="940" dy="8.5">CHURCH</tspan></text></g>
<g id="n85" class="sat"><circle cx="983" cy="992" r="27"/><text x="983" y="986"><tspan x="983">85. MISSION</tspan><tspan x="983" dy="8.5">OF THE</tspan><tspan x="983" dy="8.5">CHURCH</tspan></text></g>
<g id="n86" class="sat"><circle cx="935" cy="1047" r="27"/><text x="935" y="1045.25"><tspan x="935">86.</tspan><tspan x="935" dy="8.5">DISCIPLESHIP</tspan></text></g>
<g id="n87" class="sat"><circle cx="935" cy="1115" r="27"/><text x="935" y="1113.25"><tspan x="935">87.</tspan><tspan x="935" dy="8.5">EVANGELISM</tspan></text></g>
<g id="n88" class="sat"><circle cx="867" cy="1117" r="27"/><text x="867" y="1115.25"><tspan x="867">88.</tspan><tspan x="867" dy="8.5">STEWARDSHIP</tspan></text></g>
<g id="n89" class="sat"><circle cx="807" cy="1143" r="28"/><text x="807" y="1141.25"><tspan x="807">89.</tspan><tspan x="807" dy="8.5">EDIFICATION</tspan></text></g>
<g id="n90" class="sat"><circle cx="737" cy="1127" r="27"/><text x="737" y="1125.25"><tspan x="737">90.</tspan><tspan x="737" dy="8.5">WORSHIP</tspan></text></g>
<g id="n91" class="sat"><circle cx="706" cy="1073" r="27"/><text x="706" y="1071.25"><tspan x="706">91.</tspan><tspan x="706" dy="8.5">BAPTISM</tspan></text></g>
<g id="n92" class="sat"><circle cx="649" cy="1037" r="28"/><text x="649" y="1035.25"><tspan x="649">92. LORD'S</tspan><tspan x="649" dy="8.5">SUPPER</tspan></text></g>
<g id="n93" class="sat"><circle cx="662" cy="968" r="30"/><text x="662" y="966.25"><tspan x="662">93. FAMILY</tspan><tspan x="662" dy="8.5">RELATIONSHIPS</tspan></text></g>
<g id="n94" class="sat"><circle cx="642" cy="903" r="28"/><text x="642" y="901.25"><tspan x="642">94. SOCIAL</tspan><tspan x="642" dy="8.5">CONCERN</tspan></text></g>

<g id="n95" class="sat"><circle cx="804" cy="1278" r="27"/><text x="804" y="1272"><tspan x="804">95. LIFE</tspan><tspan x="804" dy="8.5">AFTER</tspan><tspan x="804" dy="8.5">DEATH</tspan></text></g>
<g id="n96" class="sat"><circle cx="897" cy="1352" r="29"/><text x="897" y="1346"><tspan x="897">96. SECOND</tspan><tspan x="897" dy="8.5">COMING</tspan><tspan x="897" dy="8.5">OF CHRIST</tspan></text></g>
<g id="n97" class="sat"><circle cx="890" cy="1460" r="29"/><text x="890" y="1458.25"><tspan x="890">97.</tspan><tspan x="890" dy="8.5">RESURRECTION</tspan></text></g>
<g id="n98" class="sat"><circle cx="785" cy="1523" r="29"/><text x="785" y="1521.25"><tspan x="785">98. NATURE</tspan><tspan x="785" dy="8.5">OF HELL</tspan></text></g>
<g id="n99" class="sat"><circle cx="673" cy="1465" r="29"/><text x="673" y="1459"><tspan x="673">99. NEW</tspan><tspan x="673" dy="8.5">HEAVEN &amp;</tspan><tspan x="673" dy="8.5">NEW EARTH</tspan></text></g>

<g id="brand">
<text x="872" y="1556" text-anchor="end" font-family="'Liberation Sans',sans-serif" font-size="20" fill="#1a1a1a">the</text>
<text x="876" y="1572" font-family="'Liberation Sans',sans-serif" font-weight="900" font-size="40" fill="#111">GOSPEL</text>
</g>
</svg>
